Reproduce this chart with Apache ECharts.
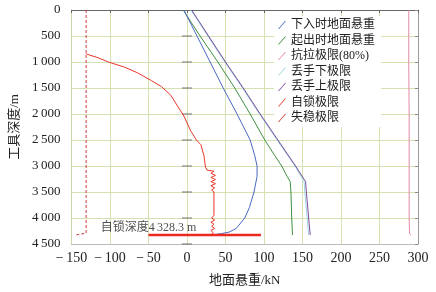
<!DOCTYPE html>
<html>
<head>
<meta charset="utf-8">
<script src="https://cdn.jsdelivr.net/npm/echarts@6/dist/echarts.min.js"></script>
<style>
  html, body { margin: 0; padding: 0; background: #fff; }
  #chart { width: 436px; height: 292px; }
</style>
</head>
<body>
<div id="chart"></div>
<script>
// 工具深度 (m) 与 地面悬重 (kN)
const depthRun = [0, 500, 1000, 1500, 2000, 2500, 2800, 3000, 3200, 3500, 3800, 4000, 4200, 4270, 4300, 4320, 4328.3];
const loadRun = [-4, 13, 30, 47, 65, 82, 88, 91, 91, 87, 81, 75, 64, 55, 45, 35, 28];

const depthPull = [0, 500, 1000, 1500, 2000, 2500, 2800, 3000, 3200, 3300, 3500, 4000, 4328.3];
const loadPull = [-5, 17, 40, 62, 82, 101, 114, 123, 130, 134, 135, 136, 137];

const depthRelease = [0, 500, 1000, 1500, 2000, 2500, 3000, 3300, 3500, 4000, 4328.3];
const loadReleaseUp = [6, 28, 50, 73, 95, 118, 141, 154, 155, 158, 160];
const loadReleaseDown = [5, 27, 49, 72, 94, 117, 140, 152, 153, 156, 158];

const depthTensile = [0, 1000, 2000, 3000, 4000, 4300, 4328.3];
const loadTensile = [288, 288, 288.5, 288.5, 288.5, 289, 291];

const depthLock = [840, 870, 910, 1000, 1100, 1210, 1360, 1475, 1640, 1830, 2040, 2330, 2515, 2590, 2800, 3020, 3080,
  3100, 3140, 3180, 3220, 3260, 3300, 3340, 3380, 3420, 3460, 3500, 3950,
  4000, 4040, 4080, 4120, 4160, 4200, 4240, 4280, 4328.3];
const loadLock = [-131, -126, -117, -102, -81, -64, -46, -33, -21, -13, -4, 5, 13, 18, 22, 24, 26,
  35, 31, 37, 31, 37, 31, 37, 31, 36, 32, 35, 35,
  32, 36, 31, 35, 32, 36, 31, 34, 31];

const depthBuckle = [0, 4290, 4328.3];
const loadBuckle = [-131, -131, -145];

// 自锁深度
const lockDepth = 4328.3;
const lockLoad = [-50, 96];

// 零线上的深度刻度
const depthTicks = [500, 1000, 1500, 2000, 2500, 3000, 3500, 4000, 4500];

const names = ["下入时地面悬重", "起出时地面悬重", "抗拉极限(80%)", "丢手下极限", "丢手上极限", "自锁极限", "失稳极限"];

const pairs = (ys, xs) => xs.map((x, i) => [x, ys[i]]);

const serif = "Liberation Serif, Noto Sans CJK SC";
const gridColor = "#d3e2b0";

const chart = echarts.init(document.getElementById("chart"));

function lineSeries(name, data, color, extra) {
  return Object.assign({
    name: name,
    type: "line",
    data: data,
    showSymbol: false,
    symbol: "none",
    itemStyle: { color: color },
    lineStyle: { color: color, width: 1 },
    animation: false,
  }, extra || {});
}

chart.setOption({
  animation: false,
  grid: { left: 66, right: 18, top: 10, bottom: 44 },
  legend: {
    orient: "vertical",
    left: 274,
    top: 16,
    padding: [3, 6, 3, 4],
    backgroundColor: "#fff",
    itemWidth: 8,
    itemHeight: 10,
    itemGap: 3.5,
    icon: "path://M0,10L1.3,10L10,0L8.7,0Z",
    textStyle: { fontSize: 12, fontFamily: serif, color: "#222", lineHeight: 10 },
    data: names,
  },
  xAxis: [
    {
      type: "value",
      min: -150,
      max: 300,
      interval: 50,
      name: "地面悬重/kN",
      nameLocation: "middle",
      nameGap: 30,
      nameTextStyle: { fontSize: 13, fontFamily: serif, color: "#222" },
      axisLine: { onZero: false, lineStyle: { color: "#bbb" } },
      axisTick: { show: false },
      axisLabel: {
        fontSize: 14,
        fontFamily: serif,
        color: "#222",
        margin: 7,
        formatter: (v) => (v < 0 ? "\u2212\u2009" + -v : String(v)),
      },
      splitLine: { show: true, lineStyle: { color: gridColor } },
    },
    {
      type: "value",
      position: "top",
      min: -150,
      max: 300,
      interval: 50,
      axisLine: { onZero: false, lineStyle: { color: "#666" } },
      axisTick: { show: true, inside: true, length: 3, lineStyle: { color: "#666" } },
      axisLabel: { show: false },
      splitLine: { show: false },
    },
  ],
  yAxis: [
    {
      type: "value",
      inverse: true,
      min: 0,
      max: 4500,
      interval: 500,
      name: "工具深度/m",
      nameLocation: "middle",
      nameGap: 46,
      nameTextStyle: { fontSize: 13, fontFamily: serif, color: "#222" },
      axisLine: { onZero: false, lineStyle: { color: "#c8d8a8" } },
      axisTick: { show: false },
      axisLabel: {
        fontSize: 13,
        fontFamily: serif,
        color: "#222",
        margin: 11,
        formatter: (v) => (v >= 1000 ? String(v).replace(/(\d)(\d{3})$/, "$1\u2009$2") : String(v)),
      },
      splitLine: { show: true, lineStyle: { color: gridColor } },
    },
    {
      type: "value",
      position: "right",
      inverse: true,
      min: 0,
      max: 4500,
      interval: 500,
      axisLine: { show: true, onZero: false, lineStyle: { color: "#999" } },
      axisTick: { show: true, inside: true, length: 3, lineStyle: { color: "#888" } },
      axisLabel: { show: false },
      splitLine: { show: false },
    },
  ],
  series: [
    {
      name: "零线刻度",
      type: "scatter",
      data: depthTicks.map((d) => [0, d]),
      symbol: "rect",
      symbolSize: [10, 1],
      itemStyle: { color: "#555" },
      silent: true,
      animation: false,
    },
    lineSeries(names[2], pairs(depthTensile, loadTensile), "#e58aa8"),
    lineSeries(names[3], pairs(depthRelease, loadReleaseDown), "#9fd6e2"),
    lineSeries(names[4], pairs(depthRelease, loadReleaseUp), "#7b4b9c"),
    lineSeries(names[1], pairs(depthPull, loadPull), "#3f8f3f"),
    lineSeries(names[0], pairs(depthRun, loadRun), "#4a68c0"),
    lineSeries(names[6], pairs(depthBuckle, loadBuckle), "#cc3b3b", {
      lineStyle: { color: "#cc3b3b", width: 1, type: [3, 2] },
    }),
    lineSeries(names[5], pairs(depthLock, loadLock), "#e8362a"),
    lineSeries("自锁深度", lockLoad.map((x) => [x, lockDepth]), "#ec2a22", {
      lineStyle: { color: "#ec2a22", width: 2.5 },
    }),
    {
      name: "自锁深度标注",
      type: "scatter",
      data: [[lockLoad[0], lockDepth]],
      symbolSize: 1,
      itemStyle: { color: "rgba(0,0,0,0)" },
      label: {
        show: true,
        position: "top",
        distance: 1,
        formatter: "自锁深度4\u2009328.3 m",
        fontSize: 12,
        fontFamily: serif,
        color: "#222",
      },
      animation: false,
    },
  ],
});
</script>
</body>
</html>
